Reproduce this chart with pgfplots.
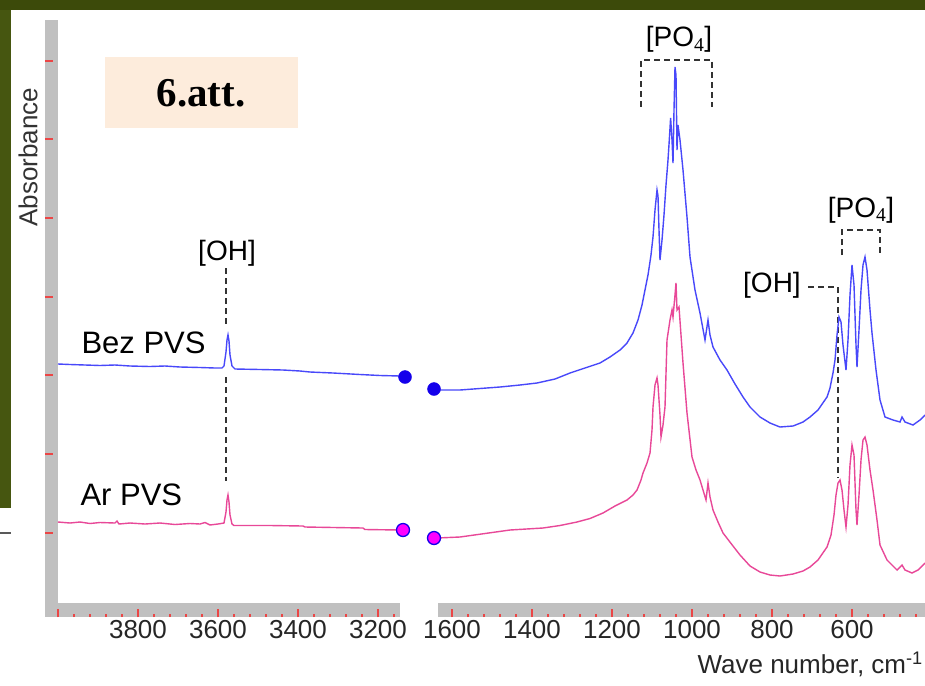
\documentclass[border=0pt]{standalone}
\usepackage{pgfplots}
\pgfplotsset{compat=1.18}
\usepackage{fontspec}
\setmainfont{Liberation Sans}
\newfontfamily\tnr{Liberation Serif}
\definecolor{olivebg}{RGB}{60,74,10}
\definecolor{olivebg2}{RGB}{70,86,16}
\definecolor{barg}{RGB}{192,192,192}
\definecolor{specblue}{RGB}{72,72,250}
\definecolor{specpink}{RGB}{232,72,152}
\definecolor{dotblue}{RGB}{20,0,235}
\definecolor{dotpink}{RGB}{255,0,255}
\definecolor{peach}{RGB}{253,236,220}
\definecolor{tickred}{RGB}{235,70,70}
\pgfplotsset{spec/.style={
  scale only axis, height=597bp,
  ymin=69, ymax=666,
  y filter/.expression={686-y},
  axis line style={draw=none}, clip=false,
  tick align=inside, major tick length=8bp, minor tick length=3.5bp,
  tick style={tickred, line width=1.2bp},
  xtick pos=left, ytick pos=left,
  xticklabel style={font=\fontsize{26bp}{30bp}\selectfont, text=black!85},
}}
\begin{document}
\begin{tikzpicture}[x=1bp,y=-1bp]
\useasboundingbox (0,0) rectangle (925,686);
\fill[white] (0,0) rectangle (925,686);
\fill[olivebg] (0,0) rectangle (925,10);
\fill[olivebg2] (0,10) rectangle (11,508);
\draw[black!65, line width=1.5bp] (0,533) -- (11,533);
\fill[barg] (45,20) rectangle (58,617);
\fill[barg] (45,603) rectangle (400,617);
\fill[barg] (438,603) rectangle (925,617);
\fill[peach] (105,57) rectangle (298,128);
\node[font=\tnr\bfseries\fontsize{41bp}{46bp}\selectfont] at (201,93) {6.att.};
\node[rotate=90, font=\fontsize{26bp}{30bp}\selectfont, text=black!80] at (28,157) {Absorbance};
\node[anchor=base west, font=\fontsize{31bp}{36bp}\selectfont] at (78,353) {Bez PVS};
\node[anchor=base west, font=\fontsize{31bp}{36bp}\selectfont] at (77,505) {Ar PVS};
\node[anchor=base, font=\fontsize{28bp}{32bp}\selectfont, inner sep=0pt] at (227,260) {[OH]};
\node[anchor=base, font=\fontsize{28bp}{32bp}\selectfont, inner sep=0pt] at (679,47) {[PO\textsubscript{\tnr 4}]};
\node[anchor=base, font=\fontsize{28bp}{32bp}\selectfont, inner sep=0pt] at (861,217) {[PO\textsubscript{\tnr 4}]};
\node[anchor=base west, font=\fontsize{28bp}{32bp}\selectfont, inner sep=0pt] at (743,292) {[OH]};
\node[anchor=base east, font=\fontsize{26bp}{30bp}\selectfont, inner sep=0pt, text=black!85] at (923,673) {Wave number, cm\textsuperscript{-1}};
\begin{scope}[black!80, line width=1.3bp, dash pattern=on 6bp off 4bp]
\draw (226,268) -- (226,326);
\draw (226,377) -- (226,481);
\draw (641,107) -- (641,60) -- (712,60) -- (712,107);
\draw (842,255) -- (842,230) -- (880,230) -- (880,255);
\draw (808,287) -- (838,287) -- (838,478);
\end{scope}

\begin{axis}[spec, at={(45bp,-617bp)}, anchor=south west, width=355bp,
  x dir=reverse, xmin=3145, xmax=4032.5,
  xtick={3200,3400,3600,3800,4000}, xticklabels={3200,3400,3600,3800,{}},
  minor xtick={3160,3200,...,4000},
  ytick={153,232,311,389,468,547,625}, yticklabels={}]
\addplot[specblue, line width=1.4bp] coordinates {
(4000,364) (3970,364.5) (3932.5,365) (3895,365.5) (3857.5,365) (3820,366)
(3770,366.5) (3732.5,366) (3695,367) (3645,367.5) (3607.5,368) (3590,368)
(3585,366) (3580,352) (3577.5,340) (3575,335) (3572.5,341) (3570,355)
(3565,366) (3557.5,369) (3495,369.5) (3437.5,370) (3395,371) (3370,372)
(3312.5,373) (3245,374.5) (3195,375.5) (3145,376) (3132.5,377)};
\addplot[specpink, line width=1.4bp] coordinates {
(4000,522) (3970,523) (3945,522) (3920,523.5) (3895,522.5) (3857.5,523)
(3852.5,521) (3847.5,524) (3820,523) (3782.5,524) (3745,523) (3707.5,524.5)
(3670,523.5) (3645,524) (3632.5,522.5) (3620,525) (3600,524) (3585,523)
(3580,512) (3577.5,500) (3575,495) (3572.5,502) (3570,515) (3565,524)
(3560,525.5) (3470,525.5) (3387.5,526) (3382.5,527) (3237.5,528)
(3232.5,529.5) (3145,530) (3137.5,530)};
\addplot[only marks, mark=*, mark size=6.5bp, mark options={fill=dotblue, draw=dotblue}] coordinates {(3132.5,377)};
\addplot[only marks, mark=*, mark size=6.5bp, mark options={fill=dotpink, draw=dotblue, line width=1.3bp}] coordinates {(3137.5,530)};
\end{axis}

\begin{axis}[spec, at={(438bp,-617bp)}, anchor=south west, width=487bp,
  x dir=reverse, xmin=417.5, xmax=1635,
  xtick={600,800,1000,1200,1400,1600}, xticklabels={600,800,1000,1200,1400,1600},
  minor xtick={440,480,...,1600}, ytick=\empty]
\addplot[specblue, line width=1.4bp] coordinates {
(1645,389) (1637.5,390) (1605,390) (1580,390) (1530,388.5) (1480,387)
(1430,385) (1387.5,383) (1342.5,379) (1305,373) (1267.5,368) (1230,363)
(1205,357) (1180,350) (1162.5,343) (1147.5,333) (1135,320) (1125,305)
(1117.5,290) (1110,275) (1102.5,255) (1097.5,237) (1092.5,210) (1087.5,190)
(1085,196) (1082.5,230) (1080,260) (1075,240) (1070,215) (1065,185)
(1060,160) (1056,135) (1053.5,118) (1050,140) (1047.5,163) (1045,110)
(1042.5,67) (1040,75) (1037.5,150) (1035,125) (1030,140) (1022.5,170)
(1012.5,217) (1005,257) (992.5,290) (980,313) (967.5,340) (960,320)
(955,335) (947.5,347) (930,360) (912.5,370) (892.5,384) (872.5,397)
(855,407) (830,417) (805,423) (780,427) (747.5,426) (722.5,422) (705,417)
(685,410) (662.5,397) (655,388) (647.5,373) (642.5,360) (637.5,335)
(632.5,317) (627.5,322) (622.5,345) (615,370) (610,340) (605,295)
(600,265) (595,285) (590,345) (587.5,367) (582.5,330) (577.5,290)
(572.5,265) (567.5,257) (562.5,270) (555,310) (550,333) (540,370)
(530,400) (517.5,417) (497.5,420) (480,422) (475,417) (467.5,422)
(447.5,425) (430,420) (417.5,415)};
\addplot[specpink, line width=1.4bp] coordinates {
(1645,538) (1637.5,538) (1580,537) (1517.5,533.5) (1455,530) (1372.5,528)
(1330,525.5) (1287.5,522) (1255,518.5) (1222.5,513) (1192.5,506)
(1162.5,500) (1147.5,495) (1137.5,490) (1127.5,480) (1122.5,473)
(1112.5,463) (1105,453) (1100,430) (1097.5,407) (1092.5,385) (1087.5,378)
(1085,385) (1080,415) (1077.5,437) (1072.5,425) (1067.5,407) (1062.5,340)
(1055,320) (1050,310) (1047.5,317) (1042.5,295) (1040,283) (1037.5,310)
(1032.5,307) (1027.5,335) (1022.5,363) (1012.5,413) (1000,457) (990,470)
(980,480) (965,500) (960,483) (955,497) (947.5,510) (935,522)
(922.5,533) (897.5,546) (880,555) (855,566) (830,572) (805,575)
(780,576) (747.5,574) (722.5,571) (705,567) (685,560) (662.5,547)
(652.5,535) (645,515) (640,495) (635,483) (630,480) (625,490) (620,510)
(615,527) (610,505) (605,465) (600,445) (595,455) (590,510) (587.5,525)
(582.5,495) (577.5,460) (572.5,440) (567.5,437) (562.5,445) (555,470)
(547.5,490) (537.5,520) (530,545) (512.5,560) (487.5,570) (475,565)
(467.5,570) (450,573) (435,570) (417.5,563)};
\addplot[only marks, mark=*, mark size=6.5bp, mark options={fill=dotblue, draw=dotblue}] coordinates {(1645,389)};
\addplot[only marks, mark=*, mark size=6.5bp, mark options={fill=dotpink, draw=dotblue, line width=1.3bp}] coordinates {(1645,538)};
\end{axis}
\end{tikzpicture}
\end{document}
